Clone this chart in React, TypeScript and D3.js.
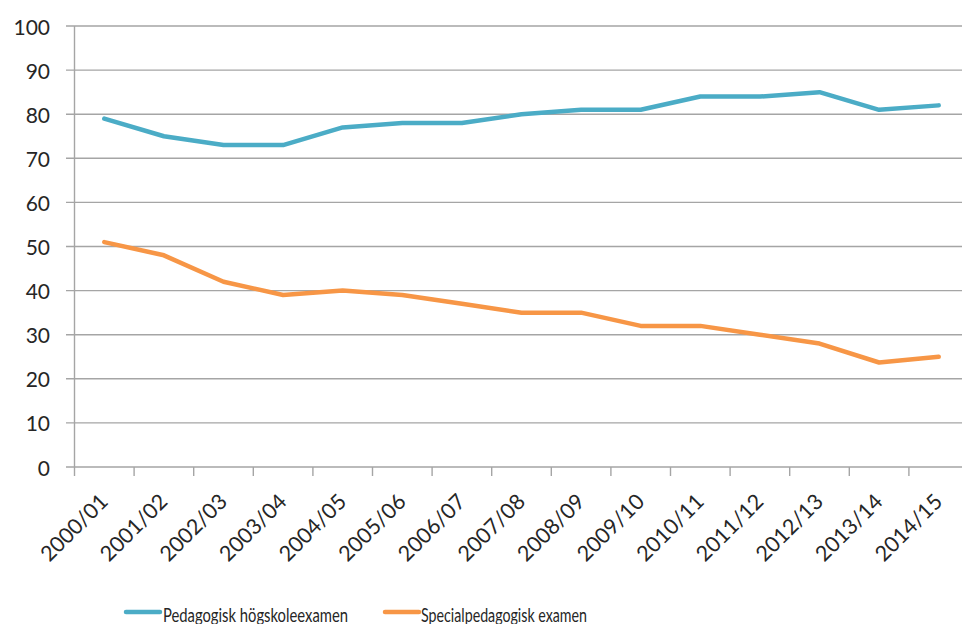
import React from "react";
import * as d3 from "d3";

const categories = [
  "2000/01", "2001/02", "2002/03", "2003/04", "2004/05", "2005/06", "2006/07", "2007/08",
  "2008/09", "2009/10", "2010/11", "2011/12", "2012/13", "2013/14", "2014/15",
];
const pedagogisk = [79, 75, 73, 73, 77, 78, 78, 80, 81, 81, 84, 84, 85, 81, 82];
const special = [51, 48, 42, 39, 40, 39, 37, 35, 35, 32, 32, 30, 28, 23.7, 25];
const yTicks = [0, 10, 20, 30, 40, 50, 60, 70, 80, 90, 100];
const seriesNames = ["Pedagogisk högskoleexamen", "Specialpedagogisk examen"];
const colors = ["#4BACC6", "#F79646"];

const W = 962;
const H = 624;
const FONT = "Lato, 'Liberation Sans', sans-serif";

export default function App() {
  const x = d3.scaleBand<string>().domain(categories).range([74.5, 968.5]);
  const y = d3.scaleLinear().domain([0, 100]).range([467, 26]);
  const bw = x.bandwidth();
  const cx = (c: string) => (x(c) as number) + bw / 2;
  const line = d3
    .line<number>()
    .x((_, i) => cx(categories[i]))
    .y((d) => y(d));
  const series = [pedagogisk, special];
  const boundaries = categories.map((c) => x(c) as number);
  const gridColor = "#a5a5a5";

  const legendItems = [
    { lx: 126, tx: 163, tw: 185 },
    { lx: 385, tx: 421, tw: 166 },
  ];

  return (
    <svg
      width={W}
      height={H}
      style={{ position: "absolute", left: 0, top: 0, background: "#fff" }}
      fontFamily={FONT}
    >
      <rect x={0} y={0} width={W} height={H} fill="#fff" />
      {yTicks.map((t) => (
        <g key={t}>
          <line x1={66} x2={W} y1={y(t)} y2={y(t)} stroke={gridColor} strokeWidth={1.4} />
          <text
            x={50}
            y={y(t)}
            textAnchor="end"
            dominantBaseline="central"
            fontSize={21}
            fill="#262626"
          >
            {t}
          </text>
        </g>
      ))}
      <line x1={74.5} x2={74.5} y1={y(100)} y2={y(0)} stroke={gridColor} strokeWidth={1.4} />
      {boundaries.map((b, i) => (
        <line key={i} x1={b} x2={b} y1={y(0)} y2={y(0) + 9} stroke={gridColor} strokeWidth={1.4} />
      ))}
      {categories.map((c) => (
        <text
          key={c}
          transform={`translate(${cx(c) + 5},${503}) rotate(-45)`}
          textAnchor="end"
          fontSize={21.5}
          fill="#262626"
        >
          {c}
        </text>
      ))}
      {series.map((s, i) => (
        <path
          key={i}
          d={line(s) as string}
          fill="none"
          stroke={colors[i]}
          strokeWidth={4.5}
          strokeLinejoin="round"
          strokeLinecap="round"
        />
      ))}
      {legendItems.map((l, i) => (
        <g key={i}>
          <line x1={l.lx} x2={l.lx + 34} y1={612} y2={612} stroke={colors[i]} strokeWidth={4.5} strokeLinecap="round" />
          <text
            x={l.tx}
            y={621.5}
            fontSize={19.5}
            fill="#262626"
            textLength={l.tw}
            lengthAdjust="spacingAndGlyphs"
          >
            {seriesNames[i]}
          </text>
        </g>
      ))}
    </svg>
  );
}
